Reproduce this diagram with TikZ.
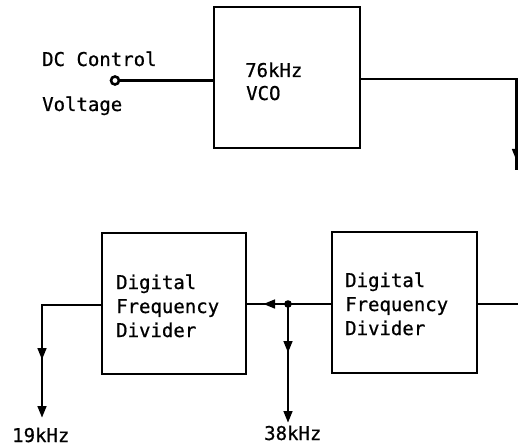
\documentclass[tikz,border=0pt]{standalone}
\usepackage{fontspec}
\newfontfamily\twfont[FakeBold=0.7]{DejaVu Sans Mono}
\usetikzlibrary{arrows.meta}
\begin{document}
\begin{tikzpicture}[x=1pt,y=-1pt,
  box/.style={draw, line width=2.8pt, inner sep=0pt},
  wire/.style={line width=2.8pt},
  lbl/.style={font=\twfont\fontsize{19}{24}\selectfont, anchor=base west, inner sep=0pt},
  tipped/.style={-{Triangle[length=12pt,width=8.5pt]}}
]
\useasboundingbox (0,0) rectangle (518,446);
% boxes
\node[box, minimum width=146pt, minimum height=141pt] (vco) at (287,77.5) {};
\node[box, minimum width=144pt, minimum height=141pt] (divA) at (174,303.5) {};
\node[box, minimum width=145pt, minimum height=141pt] (divB) at (404.5,302.5) {};
% texts
\node[lbl] (dc) at (42,66) {DC Control};
\node[lbl] (volt) at (42,111) {Voltage};
\node[lbl] (f76) at (245,77) {76kHz};
\node[lbl] (vcot) at (246,100) {VCO};
\node[lbl] (a1) at (116,289) {Digital};
\node[lbl] (a2) at (116,313) {Frequency};
\node[lbl] (a3) at (116,337) {Divider};
\node[lbl] (b1) at (345,287) {Digital};
\node[lbl] (b2) at (345,311) {Frequency};
\node[lbl] (b3) at (345,335) {Divider};
\node[lbl] (f19) at (12,442) {19kHz};
\node[lbl] (f38) at (264,440) {38kHz};
% input terminal
\node[circle, draw, line width=2.6pt, fill=white, minimum size=8pt, inner sep=0pt] (term) at (115,80.5) {};
\draw[wire] (term.east) -- (term.east -| vco.west);
% VCO output
\coordinate (c1) at (516.5,79);
\coordinate (c1t) at (516.5,161);
\coordinate (c2) at (516.5,170);
\draw[wire] (vco.east |- c1) -- (c1) -- (c2);
\draw[wire, tipped] (c1) -- (c1t);
% right divider output
\coordinate (rout) at (518,304);
\draw[wire] (divB.east |- rout) -- (rout);
% between dividers
\coordinate (j) at (288,304);
\coordinate (jt) at (263,304);
\draw[wire] (divB.west |- j) -- (divA.east |- j);
\draw[wire, tipped] (j) -- (jt);
\fill (j) circle (3.8pt);
% 38 kHz drop
\coordinate (m38) at (288,353);
\coordinate (e38) at (288,423);
\draw[wire] (j) -- (m38);
\draw[wire, tipped] (j) -- (m38);
\draw[wire, tipped] (m38) -- (e38);
% 19 kHz output
\coordinate (lc) at (42,305);
\coordinate (m19) at (42,360);
\coordinate (e19) at (42,418);
\draw[wire] (divA.west |- lc) -- (lc) -- (m19);
\draw[wire, tipped] (lc) -- (m19);
\draw[wire, tipped] (m19) -- (e19);
\end{tikzpicture}
\end{document}
